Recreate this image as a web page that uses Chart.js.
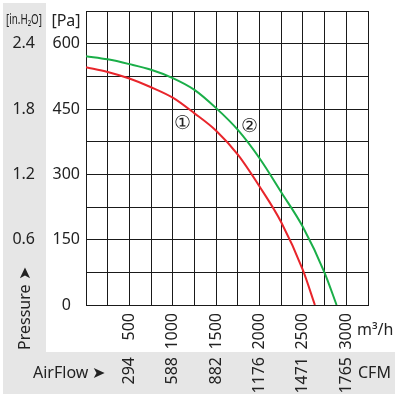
<!DOCTYPE html>
<html>
<head>
<meta charset="utf-8">
<script src="https://cdn.jsdelivr.net/npm/chart.js@4"></script>
<style>
  html, body { margin: 0; padding: 0; background: #fff; }
  #wrap { width: 402px; height: 398px; }
</style>
</head>
<body>
<div id="wrap"><canvas id="myChart" width="402" height="398"></canvas></div>
<script>
// 風量 m3/h と静圧 Pa
const flow1 = [0, 250, 500, 750, 1000, 1250, 1500, 1750, 2000, 2250, 2500, 2638];
const pressure1 = [546, 535, 520, 500, 476, 440, 400, 345, 272, 190, 80, 0];
const flow2 = [0, 250, 500, 750, 1000, 1250, 1500, 1750, 2000, 2250, 2500, 2750, 2888];
const pressure2 = [571, 564, 553, 540, 521, 494, 452, 402, 337, 259, 179, 74, 0];

// 目盛り
const flowTicks = [500, 1000, 1500, 2000, 2500, 3000];
const cfmTicks = ['294', '588', '882', '1176', '1471', '1765'];
const paTicks = [0, 150, 300, 450, 600];
const inTicks = ['', '0.6', '1.2', '1.8', '2.4'];

// 曲線の番号
const curveNames = ['\u2460', '\u2461'];
const nameFlow = [1114, 1881];
const namePressure = [417, 410];

const FONT = "'Noto Sans', 'Open Sans', sans-serif";
const GRID = '#1a1a1a';

const toPoints = (xs, ys) => xs.map((x, i) => ({x: x, y: ys[i]}));

const bgPlugin = {
  id: 'bg',
  beforeDraw(chart) {
    const c = chart.ctx;
    c.save();
    c.fillStyle = '#fff';
    c.fillRect(0, 0, chart.width, chart.height);
    c.fillStyle = '#e6e6e6';
    c.fillRect(3, 3, 43, 349);
    c.fillRect(3, 352, 392, 42);
    c.restore();
  }
};

const textPlugin = {
  id: 'texts',
  afterDraw(chart) {
    const c = chart.ctx;
    const xs = chart.scales.x, ys = chart.scales.y;
    c.save();
    c.fillStyle = '#222';
    c.textBaseline = 'middle';
    c.textAlign = 'center';
    // 曲線番号
    c.font = '19px ' + FONT;
    curveNames.forEach((n, i) => {
      c.fillText(n, xs.getPixelForValue(nameFlow[i]), ys.getPixelForValue(namePressure[i]));
    });
    // 単位
    c.font = '16px ' + FONT;
    c.fillText('[Pa]', 66, 21);
    c.save();
    c.translate(24, 20);
    c.scale(0.7, 1);
    c.font = '14px ' + FONT;
    c.fillText('[in.H\u2082O]', 0, 0);
    c.restore();
    c.textAlign = 'left';
    c.font = '16px ' + FONT;
    c.fillText('m\u00b3/h', 357, 330);
    c.fillText('CFM', 358, 373);
    c.fillText('AirFlow \u27a4', 33, 373);
    c.save();
    c.translate(25, 350);
    c.rotate(-Math.PI / 2);
    c.fillText('Pressure \u27a4', 0, 0);
    c.restore();
    c.restore();
  }
};

const ctx = document.getElementById('myChart').getContext('2d');
const myChart = new Chart(ctx, {
  type: 'scatter',
  data: {
    datasets: [
      {
        label: '1',
        data: toPoints(flow1, pressure1),
        showLine: true,
        borderColor: '#e8252b',
        borderWidth: 2,
        pointRadius: 0,
        cubicInterpolationMode: 'monotone',
        xAxisID: 'x',
        yAxisID: 'y'
      },
      {
        label: '2',
        data: toPoints(flow2, pressure2),
        showLine: true,
        borderColor: '#1aae48',
        borderWidth: 2,
        pointRadius: 0,
        cubicInterpolationMode: 'monotone',
        xAxisID: 'x',
        yAxisID: 'y'
      }
    ]
  },
  options: {
    responsive: false,
    animation: false,
    layout: { padding: { left: 0, top: 11, right: 34, bottom: 0 } },
    plugins: { legend: { display: false }, tooltip: { enabled: false } },
    scales: {
      x: {
        type: 'linear', position: 'bottom', min: 0, max: 3250,
        afterFit(s) { s.height = 47; },
        afterBuildTicks(s) { s.ticks = []; for (let v = 0; v <= 3250; v += 250) s.ticks.push({value: v}); },
        grid: { color: GRID, lineWidth: 1, drawTicks: false },
        border: { color: GRID, width: 1 },
        ticks: {
          autoSkip: false, minRotation: 90, maxRotation: 90, padding: 8,
          color: '#222', font: { family: FONT, size: 16 },
          callback: (v) => flowTicks.includes(v) ? String(v) : ''
        }
      },
      x2: {
        type: 'linear', position: 'bottom', min: 0, max: 3250,
        afterFit(s) { s.height = 46; },
        afterBuildTicks(s) { s.ticks = flowTicks.map(v => ({value: v})); },
        grid: { display: false, drawTicks: false },
        border: { display: false },
        ticks: {
          autoSkip: false, minRotation: 90, maxRotation: 90, padding: 5,
          color: '#222', font: { family: FONT, size: 16 },
          callback: (v) => cfmTicks[flowTicks.indexOf(v)]
        }
      },
      y: {
        type: 'linear', position: 'left', min: 0, max: 675,
        afterFit(s) { s.width = 40; s.paddingTop = 0; },
        afterBuildTicks(s) { s.ticks = []; for (let v = 0; v <= 675; v += 75) s.ticks.push({value: v}); },
        grid: { color: GRID, lineWidth: 1, drawTicks: false },
        border: { color: GRID, width: 1 },
        ticks: {
          autoSkip: false, padding: 6, crossAlign: 'center',
          color: '#222', font: { family: FONT, size: 16 },
          callback: (v) => paTicks.includes(v) ? String(v) : ''
        }
      },
      yIn: {
        type: 'linear', position: 'left', min: 0, max: 675,
        afterFit(s) { s.width = 46; s.paddingTop = 0; },
        afterBuildTicks(s) { s.ticks = paTicks.map(v => ({value: v})); },
        grid: { display: false, drawTicks: false },
        border: { display: false },
        ticks: {
          autoSkip: false, padding: 11, crossAlign: 'center',
          color: '#222', font: { family: FONT, size: 16 },
          callback: (v) => inTicks[paTicks.indexOf(v)]
        }
      }
    }
  },
  plugins: [bgPlugin, textPlugin]
});
</script>
</body>
</html>
